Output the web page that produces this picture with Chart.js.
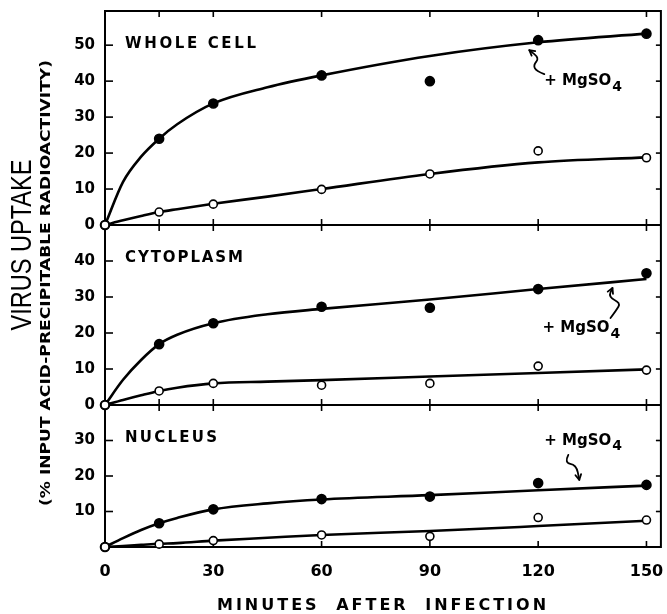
<!DOCTYPE html>
<html>
<head>
<meta charset="utf-8">
<title>Virus uptake</title>
<script src="https://cdn.jsdelivr.net/npm/chart.js@4.4.1/dist/chart.umd.min.js"></script>
<style>
    html, body { margin: 0; padding: 0; background: #fff; }
    #wrap { position: relative; width: 667px; height: 614px; }
</style>
</head>
<body>
<div id="wrap"><canvas id="uptakeChart"></canvas></div>
<script>
// Sampling times (minutes after infection)
const minutes = [0, 15, 30, 60, 90, 120, 150];

// Measured uptake, % input acid-precipitable radioactivity
const wholeMg = [0, 24, 33.8, 41.6, 40, 51.4, 53.2];
const wholeCtl = [0, 3.6, 5.8, 9.9, 14.2, 20.6, 18.7];
const cytoMg = [0, 16.9, 22.7, 27.3, 27.0, 32.2, 36.6];
const cytoCtl = [0, 3.9, 6.0, 5.5, 6.0, 10.8, 9.7];
const nucMg = [0, 6.7, 10.6, 13.5, 14.2, 18.0, 17.5];
const nucCtl = [0, 0.8, 1.8, 3.4, 3.0, 8.3, 7.6];

// Hand-drawn curves
const curveMinutes = [0, 5, 10, 15, 20, 30, 45, 60, 90, 120, 150];
const wholeMgCurve = [0, 12, 19, 24, 28, 33.8, 38.3, 41.6, 47, 50.8, 53.2];
const wholeCtlCurve = [0, 1.3, 2.5, 3.6, 4.4, 5.9, 7.9, 10, 14.2, 17.4, 18.8];
const cytoMgCurve = [0, 7, 12.5, 16.9, 19.5, 22.7, 25.2, 26.7, 29.3, 32.2, 35];
const cytoCtlCurve = [0, 1.4, 2.7, 3.9, 4.8, 6.0, 6.5, 6.9, 7.9, 8.9, 9.9];
const nucMgCurve = [0, 2.5, 4.8, 6.7, 8.2, 10.6, 12.3, 13.4, 14.6, 16.0, 17.3];
const nucCtlCurve = [0, 0.3, 0.6, 0.9, 1.1, 1.8, 2.6, 3.4, 4.5, 5.9, 7.4];

// Axis ticks
const xTickLabels = [0, 30, 60, 90, 120, 150];
const xTickMarks = [15, 30, 60, 90, 120, 150];
const wholeTicks = [0, 10, 20, 30, 40, 50];
const cytoTicks = [0, 10, 20, 30, 40];
const nucTicks = [10, 20, 30];
const panelNames = ['WHOLE CELL', 'CYTOPLASM', 'NUCLEUS'];
const mgLabel = '+ MgSO';

const FAMILY = '"DejaVu Sans", sans-serif';

function toPoints(xs, ys) {
    return xs.map((x, i) => ({ x: x, y: ys[i] }));
}

function curve(ys, axis) {
    return {
        data: toPoints(curveMinutes, ys),
        yAxisID: axis,
        borderColor: '#000',
        borderWidth: 2.6,
        pointRadius: 0,
        cubicInterpolationMode: 'monotone',
        clip: false,
        order: 3
    };
}

function dots(ys, axis, filled) {
    return {
        data: toPoints(minutes, ys),
        yAxisID: axis,
        showLine: false,
        pointRadius: filled ? 4.5 : 4,
        pointBorderWidth: 1.6,
        pointBorderColor: '#000',
        pointBackgroundColor: filled ? '#000' : '#fff',
        clip: false,
        order: filled ? 2 : 1
    };
}

function noPadding(scale) {
    scale.paddingTop = 0;
    scale.paddingBottom = 0;
    scale.paddingLeft = 0;
    scale.paddingRight = 0;
}

function yScale(max, weight, ticks, stackWeight) {
    return {
        type: 'linear',
        position: 'left',
        stack: 'panels',
        stackWeight: stackWeight,
        weight: weight,
        min: 0,
        max: max,
        afterBuildTicks: scale => { scale.ticks = ticks.map(v => ({ value: v })); },
        afterFit: scale => { scale.width = 105; noPadding(scale); },
        grid: { display: false, drawTicks: false },
        border: { display: false },
        ticks: {
            color: '#000',
            padding: 10,
            font: { family: FAMILY, weight: 'bold', size: 15 }
        }
    };
}

function line(ctx, x1, y1, x2, y2) {
    ctx.beginPath();
    ctx.moveTo(x1, y1);
    ctx.lineTo(x2, y2);
    ctx.stroke();
}

// text squeezed/stretched to a given length
function fitText(ctx, text, x, y, length, font, rotate) {
    ctx.save();
    ctx.font = font;
    ctx.translate(x, y);
    if (rotate) ctx.rotate(-Math.PI / 2);
    const w = ctx.measureText(text).width;
    ctx.scale(length / w, 1);
    ctx.textAlign = 'center';
    ctx.textBaseline = 'middle';
    ctx.fillText(text, 0, 0);
    ctx.restore();
}

// left aligned text, letters spread to a given width
function spacedText(ctx, text, x, y, width, font) {
    ctx.save();
    ctx.font = font;
    const w = ctx.measureText(text).width;
    const gap = Math.max(0, (width - w) / (text.length - 1));
    ctx.letterSpacing = gap + 'px';
    ctx.textAlign = 'left';
    ctx.textBaseline = 'middle';
    ctx.fillText(text, x, y);
    ctx.restore();
}

function drawMg(ctx, x, y) {
    ctx.save();
    ctx.font = 'bold 15px ' + FAMILY;
    ctx.textAlign = 'left';
    ctx.textBaseline = 'middle';
    ctx.fillText(mgLabel, x, y);
    const w = ctx.measureText(mgLabel).width;
    ctx.font = 'bold 14px ' + FAMILY;
    ctx.fillText('4', x + w + 1, y + 6);
    ctx.restore();
}

// wavy arrow, pts from tail to tip (offsets from an anchor)
function squiggle(ctx, ax, ay, pts) {
    const p = pts.map(q => [ax + q[0], ay + q[1]]);
    ctx.save();
    ctx.lineWidth = 1.8;
    ctx.lineJoin = 'round';
    ctx.lineCap = 'round';
    ctx.beginPath();
    ctx.moveTo(p[0][0], p[0][1]);
    for (let i = 1; i < p.length - 1; i++) {
        const mx = (p[i][0] + p[i + 1][0]) / 2;
        const my = (p[i][1] + p[i + 1][1]) / 2;
        ctx.quadraticCurveTo(p[i][0], p[i][1], mx, my);
    }
    const tip = p[p.length - 1];
    const prev = p[p.length - 2];
    ctx.lineTo(tip[0], tip[1]);
    ctx.stroke();
    const ang = Math.atan2(tip[1] - prev[1], tip[0] - prev[0]);
    ctx.beginPath();
    ctx.moveTo(tip[0] - 6 * Math.cos(ang - 0.5), tip[1] - 6 * Math.sin(ang - 0.5));
    ctx.lineTo(tip[0], tip[1]);
    ctx.lineTo(tip[0] - 6 * Math.cos(ang + 0.5), tip[1] - 6 * Math.sin(ang + 0.5));
    ctx.stroke();
    ctx.restore();
}

// Panel frames and inward tick marks
const framePlugin = {
    id: 'framePlugin',
    beforeDatasetsDraw(chart) {
        const ctx = chart.ctx;
        const a = chart.chartArea;
        const x = chart.scales.x;
        const panels = [
            [chart.scales.yW, wholeTicks],
            [chart.scales.yC, cytoTicks],
            [chart.scales.yN, nucTicks]
        ];
        ctx.save();
        ctx.strokeStyle = '#000';
        ctx.lineWidth = 2;
        ctx.strokeRect(a.left, a.top, a.right - a.left, a.bottom - a.top);
        panels.forEach(([s, ticks]) => {
            ctx.lineWidth = 2;
            line(ctx, a.left, s.bottom, a.right, s.bottom);
            ctx.lineWidth = 1.6;
            ticks.forEach(v => {
                const py = s.getPixelForValue(v);
                if (py > s.bottom - 2 || py < s.top + 2) return;
                line(ctx, a.left, py, a.left + 8, py);
                line(ctx, a.right, py, a.right - 5, py);
            });
            xTickMarks.forEach(v => {
                const px = x.getPixelForValue(v);
                line(ctx, px, s.top, px, s.top + 6);
                line(ctx, px, s.bottom, px, s.bottom - 6);
            });
        });
        ctx.restore();
    },
    afterDraw(chart) {
        const ctx = chart.ctx;
        const a = chart.chartArea;
        const x = chart.scales.x;
        const ys = [chart.scales.yW, chart.scales.yC, chart.scales.yN];
        ctx.save();
        ctx.fillStyle = '#000';
        ctx.strokeStyle = '#000';

        // panel names
        ys.forEach((s, i) => {
            const w = [131, 118, 92][i];
            spacedText(ctx, panelNames[i], a.left + 20, s.top + 33, w, 'bold 15px ' + FAMILY);
        });

        // + MgSO4 notes
        const wx = x.getPixelForValue(121.7), wy = ys[0].getPixelForValue(40.0);
        drawMg(ctx, wx, wy);
        squiggle(ctx, wx, wy, [[0, -7], [-8, -10], [-11, -16], [-5, -23], [-15, -31]]);

        const cx = x.getPixelForValue(121.2), cy = ys[1].getPixelForValue(21.4);
        drawMg(ctx, cx, cy);
        squiggle(ctx, cx, cy, [[68, -10], [74, -18], [78, -25], [66, -31], [70, -40]]);

        const nx = x.getPixelForValue(121.7), ny = ys[2].getPixelForValue(29.9);
        drawMg(ctx, nx, ny);
        squiggle(ctx, nx, ny, [[24, 14], [20, 22], [32, 24], [35, 39]]);

        // axis titles
        fitText(ctx, 'VIRUS UPTAKE', 23, 245, 171, '29px "Liberation Sans", sans-serif', true);
        fitText(ctx, '(% INPUT ACID-PRECIPITABLE RADIOACTIVITY)', 46, 283, 446, 'bold 14px ' + FAMILY, true);

        ctx.font = 'bold 16px ' + FAMILY;
        ctx.letterSpacing = '3px';
        ctx.wordSpacing = '8px';
        ctx.textAlign = 'center';
        ctx.textBaseline = 'middle';
        ctx.fillText('MINUTES AFTER INFECTION', 383, 606);
        ctx.restore();
    }
};

document.addEventListener('DOMContentLoaded', () => {
    new Chart(document.getElementById('uptakeChart'), {
        type: 'line',
        data: {
            datasets: [
                dots(wholeCtl, 'yW', false),
                dots(cytoCtl, 'yC', false),
                dots(nucCtl, 'yN', false),
                dots(wholeMg, 'yW', true),
                dots(cytoMg, 'yC', true),
                dots(nucMg, 'yN', true),
                curve(wholeMgCurve, 'yW'),
                curve(wholeCtlCurve, 'yW'),
                curve(cytoMgCurve, 'yC'),
                curve(cytoCtlCurve, 'yC'),
                curve(nucMgCurve, 'yN'),
                curve(nucCtlCurve, 'yN')
            ]
        },
        options: {
            responsive: true,
            maintainAspectRatio: false,
            animation: false,
            layout: { padding: { left: 0, top: 11, right: 1, bottom: 0 } },
            plugins: {
                legend: { display: false },
                tooltip: { enabled: false }
            },
            scales: {
                x: {
                    type: 'linear',
                    position: 'bottom',
                    min: 0,
                    max: 154,
                    afterBuildTicks: scale => { scale.ticks = xTickLabels.map(v => ({ value: v })); },
                    afterFit: scale => { scale.height = 67; noPadding(scale); },
                    grid: { display: false, drawTicks: false },
                    border: { display: false },
                    ticks: {
                        color: '#000',
                        padding: 15,
                        maxRotation: 0,
                        font: { family: FAMILY, weight: 'bold', size: 16 }
                    }
                },
                yW: yScale(59.5, 3, wholeTicks, 214),
                yC: yScale(50, 2, cytoTicks, 180),
                yN: yScale(40, 1, nucTicks, 142)
            }
        },
        plugins: [framePlugin]
    });
});
</script>
</body>
</html>
